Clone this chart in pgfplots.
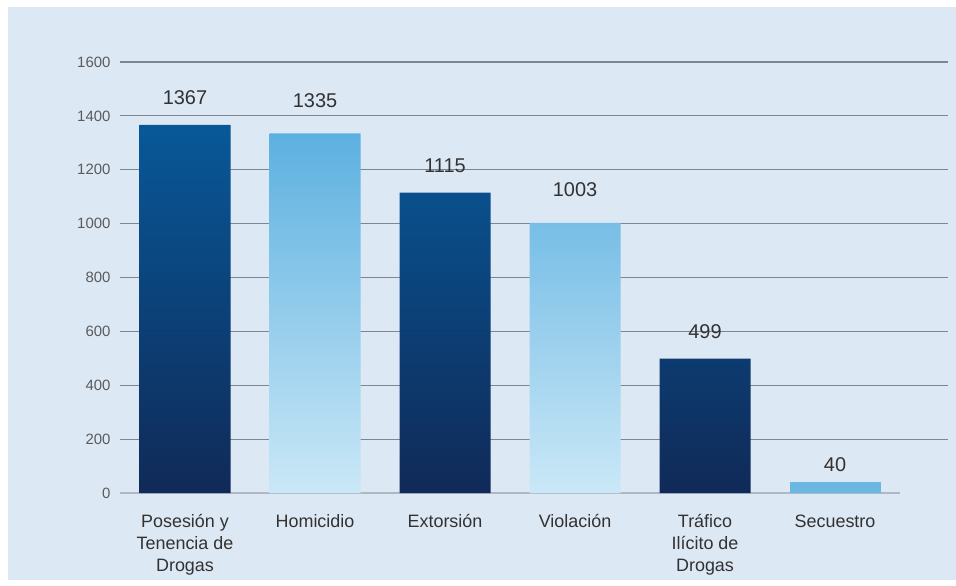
\documentclass[border=0pt]{standalone}
\usepackage{fontspec}
\setmainfont{Liberation Sans}
\usepackage{pgfplots}
\pgfplotsset{compat=1.18}
\definecolor{bg}{RGB}{221,232,245}
\definecolor{gridc}{RGB}{125,135,148}
\definecolor{basec}{RGB}{175,185,198}
\definecolor{darktop}{RGB}{8,88,152}
\definecolor{darkbot}{RGB}{16,42,88}
\definecolor{lighttop}{RGB}{92,176,224}
\definecolor{lightbot}{RGB}{202,232,247}
\definecolor{small}{RGB}{106,184,226}
\definecolor{txt}{RGB}{50,50,50}
\begin{document}
\begin{tikzpicture}
\fill[white] (0,0) rectangle (956bp,586bp);
\fill[bg] (8bp,6bp) rectangle (956bp,579bp);
\begin{axis}[
  at={(120bp,93bp)}, anchor=south west,
  scale only axis, width=828bp, height=431bp,
  xmin=-0.5, xmax=5.869, ymin=0, ymax=1600,
  clip=false,
  axis line style={draw=none},
  major tick length=0pt,
  ytick={200,400,...,1600},
  extra y ticks={0},
  extra y tick style={grid=none},
  ymajorgrids,
  grid style={gridc, line width=1.2pt},
  xtick={0,...,5},
  xticklabels={{Posesión y\\Tenencia de\\Drogas},Homicidio,Extorsión,Violación,{Tráfico\\Ilícito de\\Drogas},Secuestro},
  /pgf/number format/assume math mode=true,
  /pgf/number format/1000 sep={},
  yticklabel style={font=\fontsize{15}{15}\selectfont, text=txt!80, xshift=-6bp},
  xticklabel style={font=\fontsize{18}{22}\selectfont, text=txt, align=center, yshift=-18bp},
  nodes near coords style={font=\fontsize{20}{20}\selectfont, text=txt, anchor=center},
]
\draw[basec, line width=1.2pt] (axis cs:-0.5,0) -- (axis cs:5.5,0);
\addplot[ybar, bar width=91bp, bar shift=0pt, draw=none, top color=darktop, bottom color=darkbot,
  nodes near coords, nodes near coords style={yshift=27bp}]
  coordinates {(0,1367) (2,1115) (4,499)};
\addplot[ybar, bar width=91bp, bar shift=0pt, draw=none, top color=lighttop, bottom color=lightbot,
  nodes near coords, nodes near coords style={yshift=33bp}]
  coordinates {(1,1335) (3,1003)};
\addplot[ybar, bar width=91bp, bar shift=0pt, draw=none, fill=small,
  nodes near coords, nodes near coords style={yshift=18bp}]
  coordinates {(5,40)};
\end{axis}
\end{tikzpicture}
\end{document}
